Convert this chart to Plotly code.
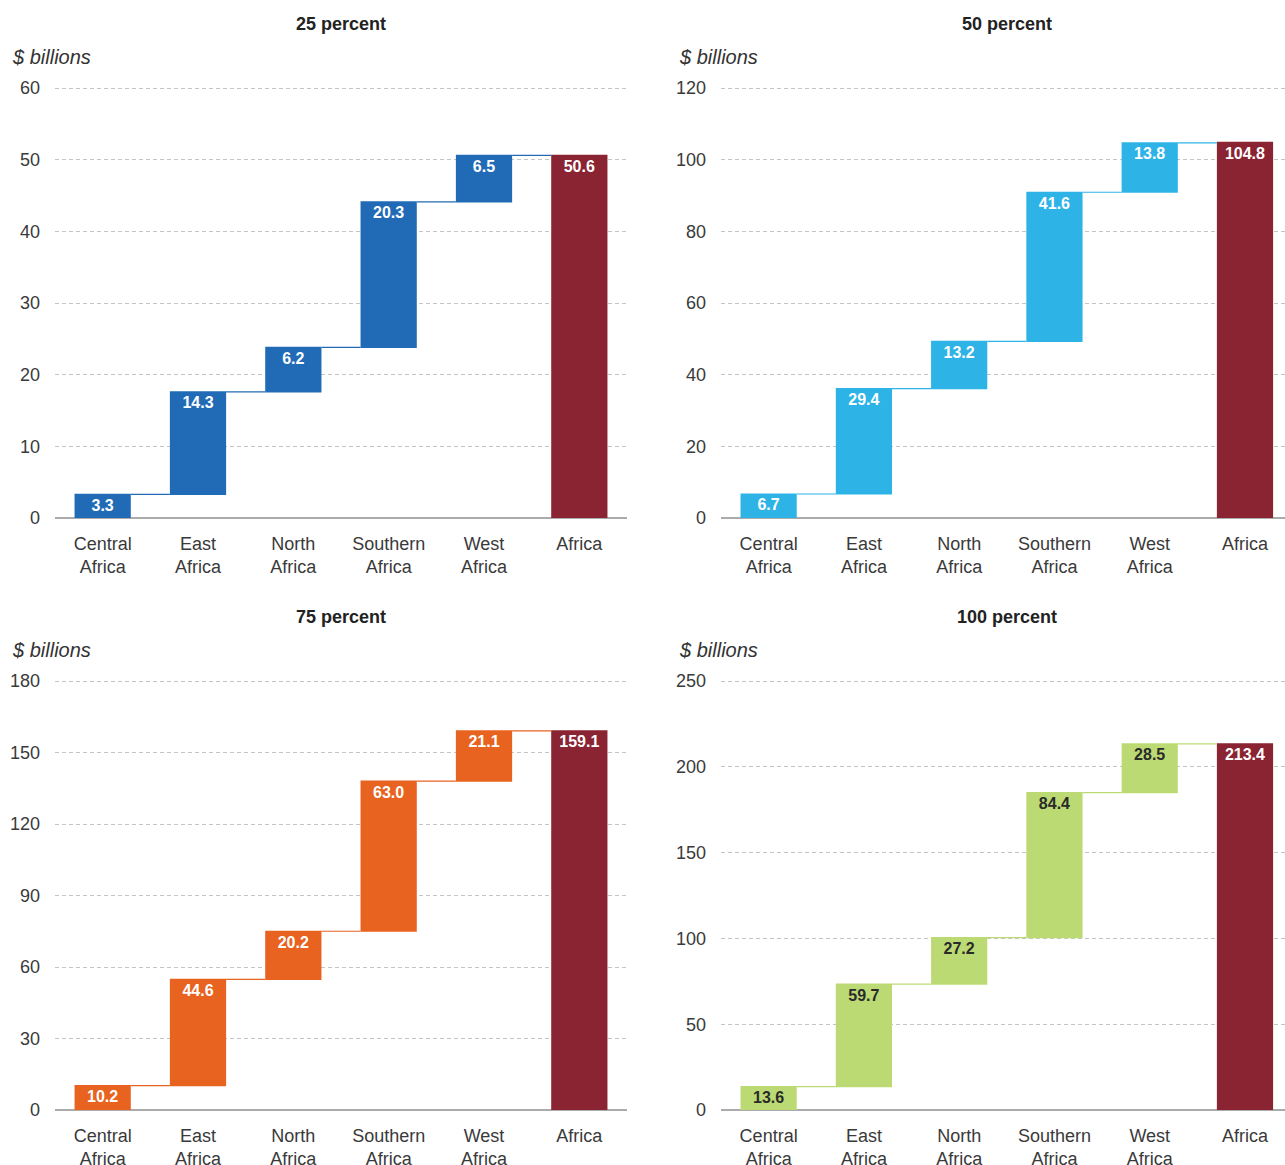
import plotly.graph_objects as go
from plotly.subplots import make_subplots

categories = ["Central<br>Africa", "East<br>Africa", "North<br>Africa", "Southern<br>Africa", "West<br>Africa", "Africa"]
measures = ["relative", "relative", "relative", "relative", "relative", "absolute"]

titles = ["25 percent", "50 percent", "75 percent", "100 percent"]
values_25 = [3.3, 14.3, 6.2, 20.3, 6.5, 50.6]
values_50 = [6.7, 29.4, 13.2, 41.6, 13.8, 104.8]
values_75 = [10.2, 44.6, 20.2, 63.0, 21.1, 159.1]
values_100 = [13.6, 59.7, 27.2, 84.4, 28.5, 213.4]
series = [values_25, values_50, values_75, values_100]

bar_colors = ["#216BB6", "#2EB3E7", "#E86220", "#BCDA73"]
label_colors = ["#FFFFFF", "#FFFFFF", "#FFFFFF", "#2A2A2A"]
total_color = "#8A2332"

y_max = [60, 120, 180, 250]
y_dticks = [10, 20, 30, 50]
x_ranges = [[-0.5, 5.5], [-0.5, 5.42], [-0.5, 5.5], [-0.5, 5.42]]

W, H = 1285, 1165
font_family = "Liberation Sans, Arial, sans-serif"

fig = make_subplots(rows=2, cols=2)

for i, vals in enumerate(series):
    r, c = i // 2 + 1, i % 2 + 1
    txt_colors = [label_colors[i]] * 5 + ["#FFFFFF"]
    fig.add_trace(go.Waterfall(
        x=categories, y=vals, measure=measures,
        text=[f"<b>{v:.1f}</b>" for v in vals],
        textinfo="text", textposition="inside", insidetextanchor="end",
        constraintext="none",
        textfont=dict(family=font_family, size=16, color=txt_colors),
        increasing=dict(marker=dict(color=bar_colors[i])),
        decreasing=dict(marker=dict(color=bar_colors[i])),
        totals=dict(marker=dict(color=total_color)),
        connector=dict(line=dict(color=bar_colors[i], width=1.2), mode="between"),
        showlegend=False, hoverinfo="skip",
    ), row=r, col=c)

# domains in pixels (top gridline pixel, zero pixel)
x_doms = [(55, 627), (721, 1285), (55, 627), (721, 1285)]
y_doms = [(88, 518), (88, 518), (681, 1110), (681, 1110)]
pad_px = 3

for i in range(4):
    xa = "xaxis" if i == 0 else f"xaxis{i+1}"
    ya = "yaxis" if i == 0 else f"yaxis{i+1}"
    x0, x1 = x_doms[i]
    yt, yb = y_doms[i]
    rtop = y_max[i] * (1 + pad_px / (yb - yt))
    fig.layout[xa].update(
        domain=[x0 / W, x1 / W], range=x_ranges[i], showgrid=False, zeroline=False,
        showline=False, ticks="", ticklabelstandoff=13, automargin=False,
        tickfont=dict(family=font_family, size=18, color="#3A3A3A"),
    )
    fig.layout[ya].update(
        domain=[1 - yb / H, 1 - (yt - pad_px) / H], range=[0, rtop],
        dtick=y_dticks[i], tick0=0,
        showgrid=True, gridcolor="#C4C4C4", gridwidth=1, griddash="4px,3px",
        zeroline=True, zerolinecolor="#ABABAB", zerolinewidth=1.5,
        showline=False, ticks="", ticklabelstandoff=14, automargin=False,
        tickfont=dict(family=font_family, size=18, color="#3A3A3A"),
    )

annotations = []
title_pos = [(341, 24), (1007, 24), (341, 617), (1007, 617)]
unit_pos = [(10, 57), (677, 57), (10, 650), (677, 650)]
for i in range(4):
    tx, ty = title_pos[i]
    annotations.append(dict(
        text=f"<b>{titles[i]}</b>", x=tx / W, y=1 - ty / H, xref="paper", yref="paper",
        xanchor="center", yanchor="middle", showarrow=False,
        font=dict(family=font_family, size=18, color="#222222"),
    ))
    ux, uy = unit_pos[i]
    annotations.append(dict(
        text="<i>$ billions</i>", x=ux / W, y=1 - uy / H, xref="paper", yref="paper",
        xanchor="left", yanchor="middle", showarrow=False,
        font=dict(family=font_family, size=20, color="#333333"),
    ))

fig.update_layout(
    width=W, height=H, margin=dict(l=0, r=0, t=0, b=0, autoexpand=False),
    paper_bgcolor="white", plot_bgcolor="white",
    waterfallgap=0.41,
    uniformtext=dict(minsize=16, mode="show"),
    annotations=annotations,
    font=dict(family=font_family),
)

fig.write_html("out.html", config={"displayModeBar": False},
               post_script="document.body.style.margin='0';document.body.style.overflow='hidden';")
